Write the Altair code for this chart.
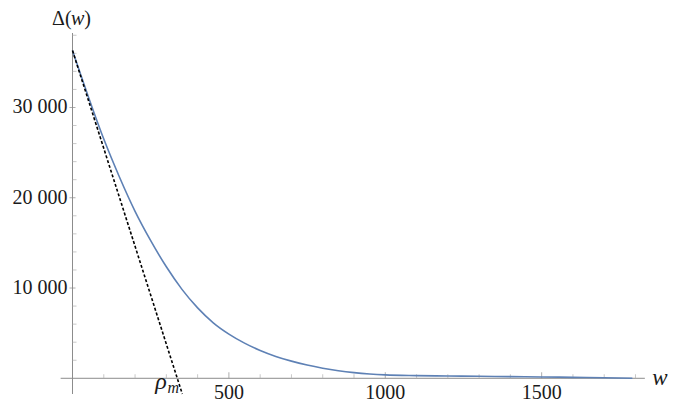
import altair as alt
import pandas as pd

# ---- data ----
w_vals = [0, 50, 100, 150, 200, 250, 300, 350, 400, 450, 500, 550, 600, 650, 700, 750,
          800, 850, 900, 950, 1000, 1100, 1200, 1300, 1400, 1500, 1600, 1700, 1790]
delta_vals = [36300, 31250, 26500, 22300, 18500, 15250, 12350, 9850, 7800, 6150, 4900, 3900,
              3080, 2420, 1900, 1470, 1120, 840, 630, 480, 380, 300, 255, 220, 185, 150, 105,
              55, 0]

tangent_w = [0, 351]
tangent_delta = [36300, -1740]

y_major = [10000, 20000, 30000]
y_major_labels = ["10 000", "20 000", "30 000"]
y_minor = [2000, 4000, 6000, 8000, 12000, 14000, 16000, 18000, 22000, 24000, 26000, 28000,
           32000, 34000, 36000, 38000]
x_major = [500, 1000, 1500]
x_major_labels = ["500", "1000", "1500"]
x_minor = [100, 200, 300, 400, 600, 700, 800, 900, 1100, 1200, 1300, 1400, 1600, 1700, 1800]

X_DOMAIN = [-40, 1840]
Y_DOMAIN = [-1740, 38250]
X_AXIS_EXTENT = [-38, 1830]
Y_AXIS_EXTENT = [-1740, 38250]

SERIF = "Liberation Serif"
AXIS_COLOR = "#8c8c8c"
TEXT_COLOR = "#1a1a1a"

xs = alt.Scale(domain=X_DOMAIN, nice=False, zero=False)
ys = alt.Scale(domain=Y_DOMAIN, nice=False, zero=False)
X = lambda f: alt.X(f, type="quantitative", scale=xs, axis=None)
Y = lambda f: alt.Y(f, type="quantitative", scale=ys, axis=None)

curve_df = pd.DataFrame({"w": w_vals, "d": delta_vals})
tan_df = pd.DataFrame({"w": tangent_w, "d": tangent_delta})

xaxis_df = pd.DataFrame({"x": [X_AXIS_EXTENT[0]], "x2": [X_AXIS_EXTENT[1]], "y": [0]})
yaxis_df = pd.DataFrame({"y": [Y_AXIS_EXTENT[0]], "y2": [Y_AXIS_EXTENT[1]], "x": [0]})

x_axis = alt.Chart(xaxis_df).mark_rule(color=AXIS_COLOR, strokeWidth=1).encode(
    x=X("x"), x2="x2", y=Y("y"))
y_axis = alt.Chart(yaxis_df).mark_rule(color=AXIS_COLOR, strokeWidth=1).encode(
    y=Y("y"), y2="y2", x=X("x"))

ymaj_df = pd.DataFrame({"v": y_major, "lab": y_major_labels, "z": 0})
ymin_df = pd.DataFrame({"v": y_minor, "z": 0})
xmaj_df = pd.DataFrame({"v": x_major, "lab": x_major_labels, "z": 0})
xmin_df = pd.DataFrame({"v": x_minor, "z": 0})

y_major_ticks = alt.Chart(ymaj_df).mark_tick(orient="horizontal", size=6, thickness=1,
                                             xOffset=0, color=AXIS_COLOR).encode(
    x=X("z"), y=Y("v"))
y_minor_ticks = alt.Chart(ymin_df).mark_tick(orient="horizontal", size=4, thickness=1,
                                             xOffset=2, color="#b0b0b0").encode(
    x=X("z"), y=Y("v"))
x_major_ticks = alt.Chart(xmaj_df).mark_tick(orient="vertical", size=6, thickness=1,
                                             yOffset=-3, color=AXIS_COLOR).encode(
    x=X("v"), y=Y("z"))
x_minor_ticks = alt.Chart(xmin_df).mark_tick(orient="vertical", size=4, thickness=1,
                                             yOffset=-2, color="#b0b0b0").encode(
    x=X("v"), y=Y("z"))

y_labels = alt.Chart(ymaj_df).mark_text(font=SERIF, fontSize=20, align="right",
                                        baseline="middle", dx=-5, color=TEXT_COLOR).encode(
    x=X("z"), y=Y("v"), text="lab:N")
x_labels = alt.Chart(xmaj_df).mark_text(font=SERIF, fontSize=20, align="center",
                                        baseline="alphabetic", dy=21, color=TEXT_COLOR).encode(
    x=X("v"), y=Y("z"), text="lab:N")

curve = alt.Chart(curve_df).mark_line(color="#5e81b5", strokeWidth=1.6,
                                      interpolate="monotone").encode(x=X("w"), y=Y("d"))
tangent = alt.Chart(tan_df).mark_line(color="black", strokeWidth=1.6,
                                      strokeDash=[3, 2]).encode(x=X("w"), y=Y("d"))

# annotation texts (data coordinates)
ylab_up_df = pd.DataFrame({"x": [-65.5, 37.4], "y": [39150, 39150], "t": ["Δ(", ")"]})
ylab_it_df = pd.DataFrame({"x": [-5.1], "y": [39150], "t": ["w"]})
xlab_df = pd.DataFrame({"x": [1878], "y": [-743], "t": ["w"]})

title_y_up = alt.Chart(ylab_up_df).mark_text(font=SERIF, fontSize=20, align="left",
                                             baseline="alphabetic", color=TEXT_COLOR).encode(
    x=X("x"), y=Y("y"), text="t:N")
title_y_it = alt.Chart(ylab_it_df).mark_text(font=SERIF, fontSize=20, fontStyle="italic",
                                             align="left", baseline="alphabetic",
                                             color=TEXT_COLOR).encode(
    x=X("x"), y=Y("y"), text="t:N")
title_x = alt.Chart(xlab_df).mark_text(font=SERIF, fontSize=23, fontStyle="italic",
                                       align="center", baseline="alphabetic",
                                       color=TEXT_COLOR).encode(
    x=X("x"), y=Y("y"), text="t:N")

rho_df = pd.DataFrame({"x": [283], "y": [-1186], "t": ["ρ"]})
m_df = pd.DataFrame({"x": [322], "y": [-1600], "t": ["m"]})
rho = alt.Chart(rho_df).mark_text(font=SERIF, fontSize=24, fontStyle="italic", align="center",
                                  baseline="alphabetic", color=TEXT_COLOR).encode(
    x=X("x"), y=Y("y"), text="t:N")
rho_m = alt.Chart(m_df).mark_text(font=SERIF, fontSize=16, fontStyle="italic", align="center",
                                  baseline="alphabetic", color=TEXT_COLOR).encode(
    x=X("x"), y=Y("y"), text="t:N")

chart = alt.layer(
    x_axis, y_axis, x_minor_ticks, y_minor_ticks, x_major_ticks, y_major_ticks,
    curve, tangent, y_labels, x_labels, title_y_up, title_y_it, title_x, rho, rho_m
).properties(
    width=588, height=361,
    padding={"left": 52, "top": 25, "right": 30, "bottom": 8},
    autosize="none",
).configure_view(stroke=None)

chart.save("out.html", embed_options={"renderer": "svg", "actions": False})
